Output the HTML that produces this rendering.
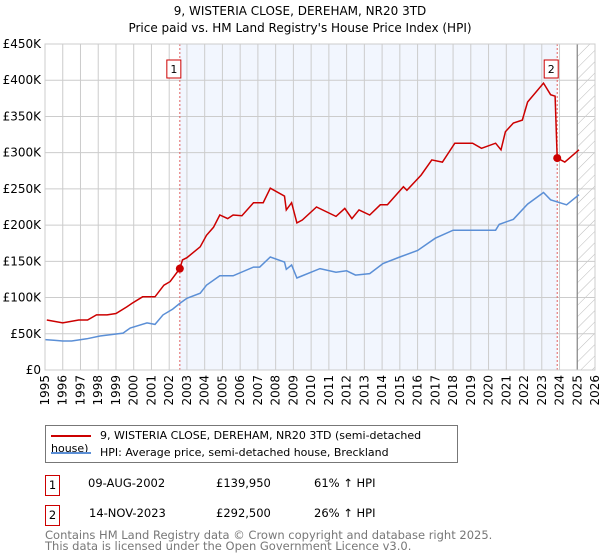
<!DOCTYPE html>
<html><head><meta charset="utf-8"><style>
body{margin:0;background:#fff;font-family:"DejaVu Sans","Liberation Sans",sans-serif;}
#wrap{position:relative;width:600px;height:560px;overflow:hidden;}
.t{position:absolute;font-size:11.5px;color:#000;white-space:nowrap;}
</style></head><body>
<div id="wrap">
<svg id="chart" width="600" height="420" style="position:absolute;left:0;top:0;font-family:'DejaVu Sans','Liberation Sans',sans-serif"></svg>
<div style="position:absolute;left:45px;top:425px;width:413px;height:38px;border:1px solid #777;box-sizing:border-box;">
 <div style="position:absolute;left:5px;top:3px;font-size:11px;"><span style="display:inline-block;width:40px;height:2px;background:#cc0000;vertical-align:middle;margin-right:9px"></span>9, WISTERIA CLOSE, DEREHAM, NR20 3TD (semi-detached house)</div>
 <div style="position:absolute;left:5px;top:20px;font-size:11px;"><span style="display:inline-block;width:40px;height:2px;background:#5b8fd6;vertical-align:middle;margin-right:9px"></span>HPI: Average price, semi-detached house, Breckland</div>
</div>
<div class="t" style="left:45px;top:475px;width:15px;height:21px;border:1px solid #cc0000;box-sizing:border-box;text-align:center;line-height:19px;">1</div>
<div class="t" style="left:88px;top:476px">09-AUG-2002</div>
<div class="t" style="left:216px;top:476px">£139,950</div>
<div class="t" style="left:314px;top:476px">61% ↑ HPI</div>
<div class="t" style="left:45px;top:505px;width:15px;height:21px;border:1px solid #cc0000;box-sizing:border-box;text-align:center;line-height:19px;">2</div>
<div class="t" style="left:89px;top:506px">14-NOV-2023</div>
<div class="t" style="left:216px;top:506px">£292,500</div>
<div class="t" style="left:314px;top:506px">26% ↑ HPI</div>
<div class="t" style="left:45px;top:530px;color:#777;line-height:11px;font-size:11.5px;">Contains HM Land Registry data © Crown copyright and database right 2025.<br>This data is licensed under the Open Government Licence v3.0.</div>
</div>
<script>
const yearTicks=[1995,1996,1997,1998,1999,2000,2001,2002,2003,2004,2005,2006,2007,2008,2009,2010,2011,2012,2013,2014,2015,2016,2017,2018,2019,2020,2021,2022,2023,2024,2025,2026];
const valueTicks=[0,50,100,150,200,250,300,350,400,450];
const valueLabels=["£0","£50K","£100K","£150K","£200K","£250K","£300K","£350K","£400K","£450K"];
const hpiYears=[1995.0,1995.5,1996.0,1996.5,1997.35,1998.1,1999.4,1999.8,2000.75,2001.2,2001.65,2002.2,2002.6,2003.0,2003.75,2004.1,2004.85,2005.6,2006.75,2007.1,2007.7,2008.5,2008.6,2008.9,2009.2,2009.4,2010.5,2011.4,2012.0,2012.5,2013.3,2014.05,2015.0,2016.0,2017.0,2018.0,2019.1,2020.4,2020.6,2021.4,2022.2,2023.1,2023.5,2024.4,2025.1];
const hpiValues=[42,41,40,40,43,47,51,58,65,63,76,84,92,99,106,117,130,130,142,142,156,149,139,145,127,129,140,135,137,131,133,147,156,165,182,193,193,193,201,208,229,245,235,228,242];
const propYears=[1995.1,1996.0,1996.9,1997.4,1997.9,1998.5,1999.0,1999.6,1999.9,2000.5,2001.2,2001.7,2002.05,2002.6,2002.75,2003.0,2003.75,2004.1,2004.5,2004.85,2005.3,2005.6,2006.1,2006.75,2007.3,2007.7,2008.5,2008.6,2008.9,2009.2,2009.5,2010.3,2011.4,2011.9,2012.3,2012.7,2013.3,2013.9,2014.3,2015.2,2015.4,2016.2,2016.8,2017.4,2018.1,2019.1,2019.6,2020.4,2020.7,2020.95,2021.4,2021.9,2022.2,2023.1,2023.5,2023.75,2023.87,2024.3,2025.1];
const propValues=[69,65,69,69,76,76,78,87,92,101,101,117,122,139.95,152,155,170,186,197,214,209,214,213,231,231,251,240,221,231,203,207,225,212,223,209,221,214,228,228,253,248,269,290,287,313,313,306,313,304,329,341,345,370,396,380,378,292.5,287,304];
const saleYears=[2002.6,2023.87];
const saleValues=[139.95,292.5];
const saleLabels=["1","2"];

const L=45,R=595,T=44,B=370;
const X=y=>L+(y-1995)/(2026-1995)*(R-L);
const Y=v=>B-v/450*(B-T);
const svg=document.getElementById('chart');
const NS='http://www.w3.org/2000/svg';
function mk(tag,attrs,parent){const e=document.createElementNS(NS,tag);for(const k in attrs)e.setAttribute(k,attrs[k]);(parent||svg).appendChild(e);return e;}

let e;
e=mk('text',{x:300,y:15,'text-anchor':'middle','font-size':'12'});e.textContent='9, WISTERIA CLOSE, DEREHAM, NR20 3TD';


e=mk('text',{x:300,y:32,'text-anchor':'middle','font-size':'12'});e.textContent="Price paid vs. HM Land Registry's House Price Index (HPI)";



e=mk('rect',{x:X(saleYears[0]),y:T,width:X(saleYears[1])-X(saleYears[0]),height:B-T,fill:'#eef3fd',opacity:0.75});


const defs=mk('defs',{});
const pat=mk('pattern',{id:'hatch',width:8,height:8,patternUnits:'userSpaceOnUse',patternTransform:'rotate(45)'},defs);
mk('line',{x1:0,y1:0,x2:0,y2:8,stroke:'#bbb','stroke-width':1},pat);
e=mk('rect',{x:X(2025),y:T,width:R-X(2025),height:B-T,fill:'url(#hatch)'});



yearTicks.forEach(yr=>{
 e=mk('line',{x1:X(yr),x2:X(yr),y1:T,y2:B,stroke:'#ccc','stroke-width':1});
 
 
 const tx=X(yr)+4, ty=B+5;
 e=mk('text',{x:tx,y:ty,'font-size':'12','text-anchor':'end',transform:`rotate(-90 ${tx} ${ty})`});
 e.textContent=yr;
 
 
});
valueTicks.forEach((v,i)=>{
 e=mk('line',{x1:L,x2:R,y1:Y(v),y2:Y(v),stroke:'#ccc','stroke-width':1});
 
 
 e=mk('text',{x:L-4,y:Y(v)+4,'font-size':'12','text-anchor':'end'});
 e.textContent=valueLabels[i];
 
 
});
e=mk('line',{x1:X(2025),x2:X(2025),y1:T,y2:B,stroke:'#888','stroke-width':1.2});



saleYears.forEach((yr,i)=>{
 e=mk('line',{x1:X(yr),x2:X(yr),y1:T,y2:B,stroke:'#e06060','stroke-width':1,'stroke-dasharray':'2,2'});
 
 
 e=mk('rect',{x:X(yr)-13,y:60,width:14,height:18,fill:'#fff',stroke:'#cc0000','stroke-width':1});
 
 
 e=mk('text',{x:X(yr)-6,y:73,'font-size':'11','text-anchor':'middle'});
 e.textContent=saleLabels[i];
 
 
});

function pts(xs,vs){return xs.map((x,i)=>X(x).toFixed(1)+','+Y(vs[i]).toFixed(1)).join(' ');}
e=mk('polyline',{points:pts(hpiYears,hpiValues),fill:'none',stroke:'#5b8fd6','stroke-width':1.5});


e=mk('polyline',{points:pts(propYears,propValues),fill:'none',stroke:'#cc0000','stroke-width':1.5});


saleYears.forEach((yr,i)=>{
 e=mk('circle',{cx:X(yr),cy:Y(saleValues[i]),r:4,fill:'#cc0000'});
 
 
});
e=mk('rect',{x:L,y:T,width:R-L,height:B-T,fill:'none',stroke:'#ccc'});


</script>
</body></html>
